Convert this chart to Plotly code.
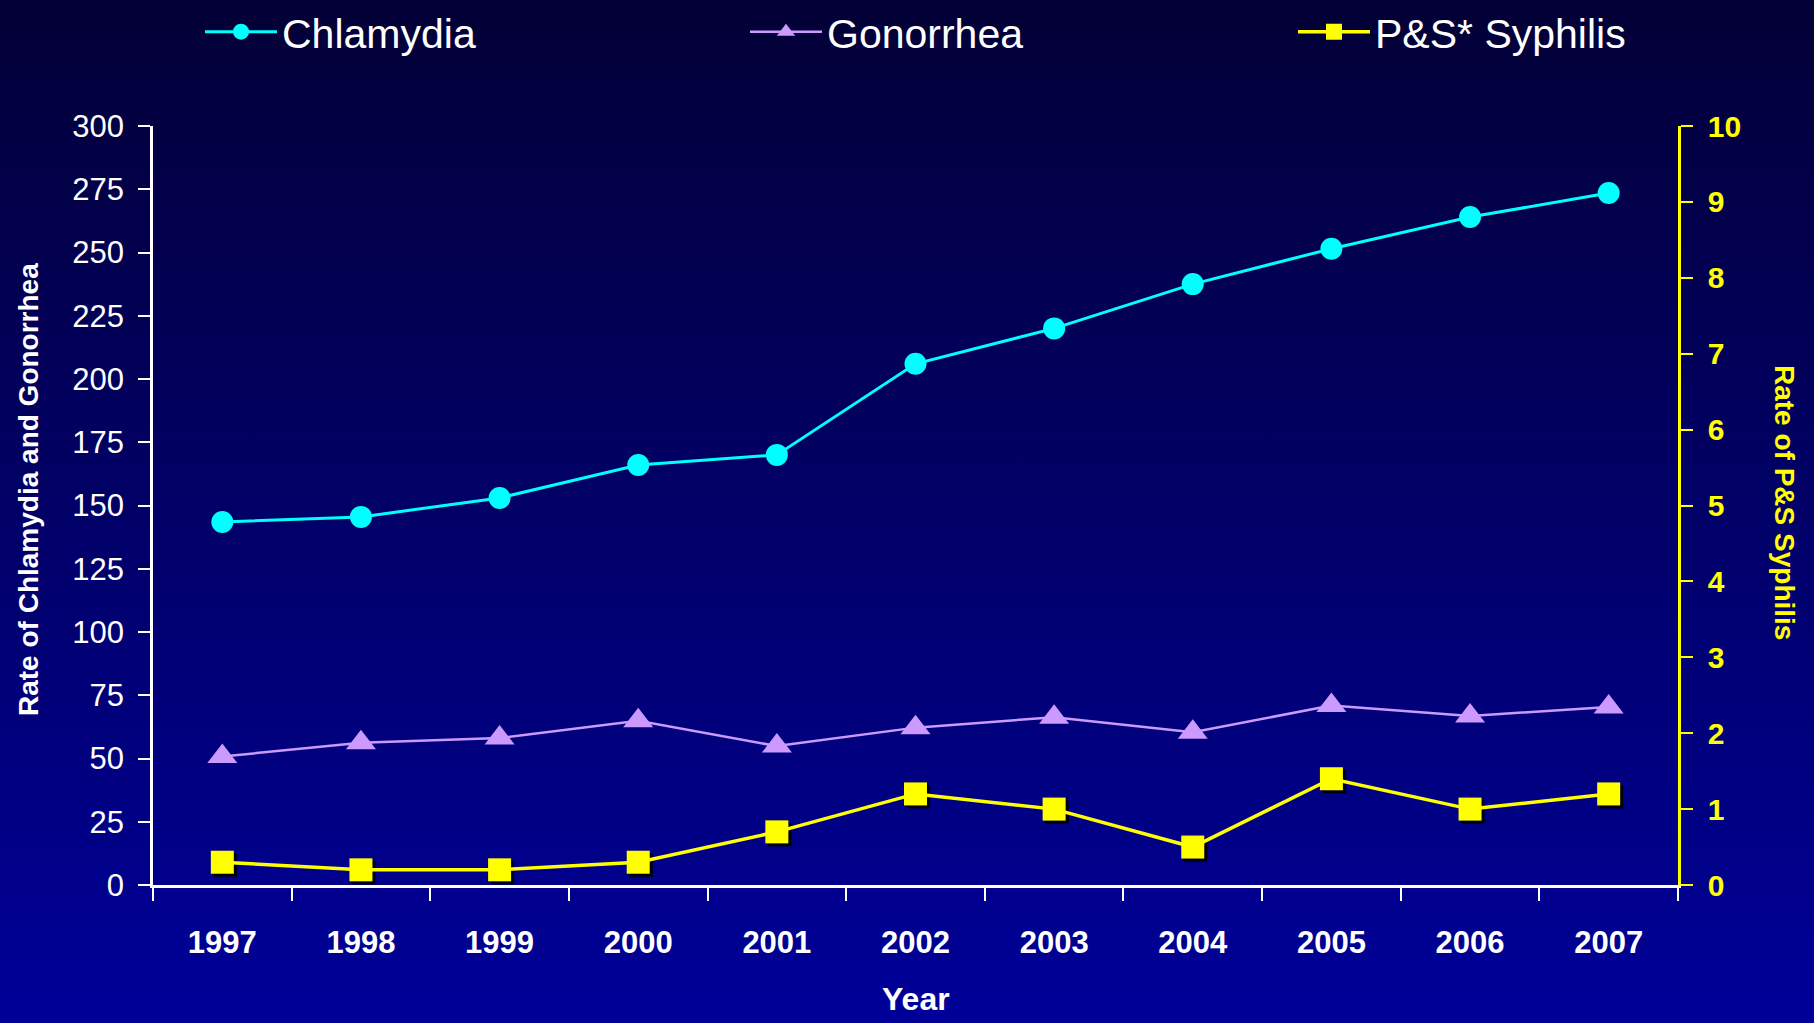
import base64
import plotly.graph_objects as go

# ---------------- data ----------------
years = ["1997", "1998", "1999", "2000", "2001", "2002", "2003", "2004", "2005", "2006", "2007"]
chlamydia = [143.5, 145.5, 153, 166, 170, 206, 220, 237.5, 251.5, 264, 273.5]
gonorrhea = [50.8, 56.2, 58.1, 64.9, 54.9, 62.2, 66.3, 60.4, 70.9, 66.8, 70.4]
syphilis = [0.3, 0.2, 0.2, 0.3, 0.7, 1.2, 1.0, 0.5, 1.4, 1.0, 1.2]

left_range = [0, 300]
right_range = [0, 10]

# ---------------- geometry / style ----------------
W, H = 1814, 1023
ML, MR, MT, MB = 153, 136, 126, 138
PW = W - ML - MR
PH = H - MT - MB

SANS = "Liberation Sans, Arial"

CYAN = "#00FFFF"
LILAC = "#CC99FF"
YELLOW = "#FFFF00"

# shadow offset (pixels) for the square markers
SH = 3
n = len(years)
sx = SH * n / PW
sy = SH * (right_range[1] - right_range[0]) / PH

fig = go.Figure()

# shadow of syphilis squares (main, hidden subplot, shifted ranges)
fig.add_trace(go.Scatter(x=years, y=syphilis, xaxis="x", yaxis="y", mode="markers",
                         marker=dict(symbol="square", size=23, color="black"),
                         showlegend=False, hoverinfo="skip"))

fig.add_trace(go.Scatter(x=years, y=chlamydia, xaxis="x2", yaxis="y2", name="Chlamydia",
                         legend="legend",
                         mode="lines+markers", line=dict(color=CYAN, width=3),
                         marker=dict(symbol="circle", size=22, color=CYAN)))
fig.add_trace(go.Scatter(x=years, y=gonorrhea, xaxis="x2", yaxis="y2", name="Gonorrhea",
                         legend="legend2",
                         mode="lines+markers", line=dict(color=LILAC, width=2.5),
                         marker=dict(symbol="triangle-up", size=26, color=LILAC)))
fig.add_trace(go.Scatter(x=years, y=syphilis, xaxis="x2", yaxis="y3", name="P&S* Syphilis",
                         legend="legend3",
                         mode="lines+markers", line=dict(color=YELLOW, width=3.5),
                         marker=dict(symbol="square", size=23, color=YELLOW)))

# background gradient as an SVG image
svg = ('<svg xmlns="http://www.w3.org/2000/svg" width="100" height="100" preserveAspectRatio="none">'
       '<defs><linearGradient id="g" x1="0" y1="0" x2="0" y2="1">'
       '<stop offset="0" stop-color="#030036"/><stop offset="1" stop-color="#000099"/>'
       '</linearGradient></defs><rect width="100" height="100" fill="url(#g)"/></svg>')
svg_uri = "data:image/svg+xml;base64," + base64.b64encode(svg.encode()).decode()


def legend_at(left_px):
    return dict(orientation="h", x=(left_px - ML) / PW, xanchor="left",
                y=1 + (MT - 32) / PH, yanchor="middle",
                font=dict(family=SANS, size=41, color="white"),
                bgcolor="rgba(0,0,0,0)", itemwidth=72)


fig.update_layout(
    width=W, height=H,
    margin=dict(l=ML, r=MR, t=MT, b=MB, pad=0, autoexpand=False),
    paper_bgcolor="#030036",
    plot_bgcolor="rgba(0,0,0,0)",
    images=[dict(source=svg_uri, xref="paper", yref="paper",
                 x=-ML / PW, y=1 + MT / PH, sizex=W / PW, sizey=H / PH,
                 xanchor="left", yanchor="top", sizing="stretch", layer="below")],
    # hidden main axes carrying the shadow
    xaxis=dict(type="category", categoryorder="array", categoryarray=years,
               range=[-0.5 - sx, n - 0.5 - sx], visible=False, domain=[0, 1]),
    yaxis=dict(range=[right_range[0] + sy, right_range[1] + sy], visible=False, domain=[0, 1]),
    # visible x axis
    xaxis2=dict(overlaying="x", anchor="y2", type="category", categoryorder="array",
                categoryarray=years, range=[-0.5, n - 0.5], tickson="boundaries",
                ticks="outside", ticklen=13, tickwidth=2, tickcolor="white",
                showline=True, linecolor="white", linewidth=2.5,
                showgrid=False, zeroline=False,
                tickfont=dict(family=SANS, size=31, color="white", weight="bold"),
                ticklabelstandoff=28),
    # crossing (inside) ticks for x
    xaxis4=dict(overlaying="x", anchor="y2", type="category", categoryorder="array",
                categoryarray=years, range=[-0.5, n - 0.5], tickson="boundaries",
                ticks="inside", ticklen=13, tickwidth=2, tickcolor="white",
                showline=False, showgrid=False, zeroline=False, showticklabels=False),
    # left y axis
    yaxis2=dict(overlaying="y", anchor="x2", side="left", range=left_range, dtick=25,
                ticks="outside", ticklen=12, tickwidth=2, tickcolor="white",
                showline=True, linecolor="white", linewidth=2.5,
                showgrid=False, zeroline=False,
                tickfont=dict(family=SANS, size=31, color="white"),
                ticklabelstandoff=8),
    yaxis4=dict(overlaying="y", anchor="x2", side="left", range=left_range, dtick=25,
                ticks="inside", ticklen=13, tickwidth=2, tickcolor="white",
                showline=False, showgrid=False, zeroline=False, showticklabels=False),
    # right y axis
    yaxis3=dict(overlaying="y", anchor="x2", side="right", range=right_range, dtick=1,
                ticks="outside", ticklen=12, tickwidth=2, tickcolor=YELLOW,
                showline=True, linecolor=YELLOW, linewidth=2.5,
                showgrid=False, zeroline=False,
                tickfont=dict(family=SANS, size=30, color=YELLOW, weight="bold"),
                ticklabelstandoff=9),
    showlegend=True,
    legend=legend_at(200),
    legend2=legend_at(745),
    legend3=legend_at(1293),
    annotations=[
        dict(text="Rate of Chlamydia and Gonorrhea", xref="paper", yref="paper",
             x=(28 - ML) / PW, y=(H - MB - 490) / PH, textangle=-90, showarrow=False,
             xanchor="center", yanchor="middle",
             font=dict(family=SANS, size=28, color="white", weight="bold")),
        dict(text="Rate of P&S Syphilis", xref="paper", yref="paper",
             x=(1785 - ML) / PW, y=(H - MB - 502) / PH, textangle=90, showarrow=False,
             xanchor="center", yanchor="middle",
             font=dict(family=SANS, size=28, color=YELLOW, weight="bold")),
        dict(text="Year", xref="paper", yref="paper",
             x=0.5, y=(H - MB - 999) / PH, showarrow=False,
             xanchor="center", yanchor="middle",
             font=dict(family=SANS, size=32, color="white", weight="bold")),
    ],
)

fig.write_html("out.html", config={"displayModeBar": False},
               post_script="document.body.style.margin='0';document.body.style.overflow='hidden';")
